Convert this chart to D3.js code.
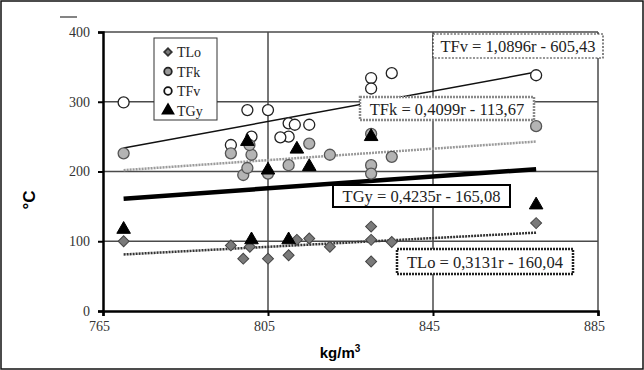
<!DOCTYPE html>
<html>
<head>
<script src="https://d3js.org/d3.v7.min.js"></script>
<style>
  body { margin: 0; padding: 0; background: #fff; }
  svg text { font-family: "Liberation Serif", "DejaVu Serif", serif; }
</style>
</head>
<body>
<div class="viz"></div>
<script>
// data (x = kg/m3, y = °C)
var xTicks = [765, 805, 845, 885];
var yTicks = [0, 100, 200, 300, 400];

var tloX = [770, 796, 799, 800.6, 805, 810, 812, 815, 820, 830, 830, 830, 835, 870];
var tloY = [100, 94, 75, 92, 75, 80, 102, 104, 92, 121, 102, 71, 99, 126];

var tfkX = [770, 796, 799, 800, 801, 800.5, 805, 810, 815, 820, 830, 830, 830, 835, 870];
var tfkY = [226, 226, 195, 205, 224, 238, 197, 209, 240, 224, 209, 197, 254, 221, 265];

var tfvX = [770, 800, 805, 796, 801, 810, 810, 811.5, 815, 808, 830, 830, 835, 870];
var tfvY = [299, 288, 288, 238, 250, 269, 250, 267, 267, 249, 334, 319, 341, 338];

var tgyX = [770, 801, 810, 800, 805, 812, 815, 830, 870];
var tgyY = [117, 102, 102, 243, 202, 232, 207, 250, 152];

// trend lines: slope, intercept, drawn over the data range
var trendNames = ["TFv", "TFk", "TGy", "TLo"];
var trendSlope = [1.0896, 0.4099, 0.4235, 0.3131];
var trendIcpt = [-605.43, -113.67, -165.08, -160.04];
var trendLabel = ["TFv = 1,0896r - 605,43", "TFk = 0,4099r - 113,67",
                  "TGy = 0,4235r - 165,08", "TLo = 0,3131r - 160,04"];
var trendFrom = 770, trendTo = 870;

var width = 644, height = 370;
var svg = d3.select(".viz").append("svg")
    .attr("width", width)
    .attr("height", height);

// outer frame
svg.append("rect")
    .attr("x", 1).attr("y", 1)
    .attr("width", width - 2).attr("height", height - 2)
    .attr("fill", "none").attr("stroke", "#111").attr("stroke-width", 1.5);

var x = d3.scaleLinear().domain([765, 885]).range([103, 598]);
var y = d3.scaleLinear().domain([0, 400]).range([311, 32]);

// grid
svg.append("g").selectAll("line")
    .data(yTicks.slice(1))
    .enter().append("line")
    .attr("x1", x(765)).attr("x2", x(885))
    .attr("y1", function(d){ return y(d); })
    .attr("y2", function(d){ return y(d); })
    .attr("stroke", "#4a4a4a").attr("stroke-width", 1.5);

svg.append("g").selectAll("line")
    .data(xTicks.slice(1))
    .enter().append("line")
    .attr("x1", function(d){ return x(d); })
    .attr("x2", function(d){ return x(d); })
    .attr("y1", y(0)).attr("y2", y(400))
    .attr("stroke", "#4a4a4a").attr("stroke-width", 1.5);

// axes
var xAxis = svg.append("g")
    .attr("transform", "translate(0," + y(0) + ")")
    .call(d3.axisBottom(x).tickValues(xTicks).tickSize(5).tickPadding(5));
var yAxis = svg.append("g")
    .attr("transform", "translate(" + x(765) + ",0)")
    .call(d3.axisLeft(y).tickValues(yTicks).tickSize(5).tickPadding(8));

[xAxis, yAxis].forEach(function(a){
    a.select(".domain").attr("stroke", "#000").attr("stroke-width", 2.5);
    a.selectAll(".tick line").attr("stroke", "#000").attr("stroke-width", 2);
    a.selectAll(".tick text")
        .style("font-family", "Liberation Serif")
        .style("font-size", "14px")
        .attr("fill", "#333");
});
xAxis.selectAll(".tick text").attr("dx", "-4");

// stray dash above 400
svg.append("line")
    .attr("x1", 60).attr("x2", 77).attr("y1", 17).attr("y2", 17)
    .attr("stroke", "#333").attr("stroke-width", 1.2);

// axis titles
svg.append("text")
    .attr("transform", "translate(35,200) rotate(-90)")
    .attr("text-anchor", "middle")
    .style("font-family", "Liberation Sans")
    .style("font-weight", "bold")
    .style("font-size", "17px")
    .text("°C");

var xt = svg.append("text")
    .attr("x", 340).attr("y", 358)
    .attr("text-anchor", "middle")
    .style("font-family", "Liberation Sans")
    .style("font-weight", "bold")
    .style("font-size", "15px");
xt.append("tspan").text("kg/m");
xt.append("tspan").attr("dy", -6).style("font-size", "10px").text("3");

// trend lines
var lineStyle = [
    {stroke: "#111", width: 1.5, dash: null},
    {stroke: "#9a9a9a", width: 2.5, dash: "2,1"},
    {stroke: "#000", width: 4.5, dash: null},
    {stroke: "#333", width: 2.5, dash: "2,1"}
];
trendNames.forEach(function(n, i){
    var pts = [trendFrom, trendTo].map(function(v){
        return [x(v), y(trendSlope[i] * v + trendIcpt[i])];
    });
    svg.append("path")
        .attr("d", d3.line()(pts))
        .attr("fill", "none")
        .attr("stroke", lineStyle[i].stroke)
        .attr("stroke-width", lineStyle[i].width)
        .attr("stroke-dasharray", lineStyle[i].dash);
});

// markers
function zip(a, b){ return a.map(function(v, i){ return [v, b[i]]; }); }

var sym = d3.symbol();
function drawSeries(xs, ys, type, size, fill, stroke, sw, rot){
    svg.append("g").selectAll("path")
        .data(zip(xs, ys))
        .enter().append("path")
        .attr("transform", function(d){
            return "translate(" + x(d[0]) + "," + y(d[1]) + ") rotate(" + (rot || 0) + ")";
        })
        .attr("d", sym.type(type).size(size)())
        .attr("fill", fill)
        .attr("stroke", stroke)
        .attr("stroke-width", sw);
}
drawSeries(tfvX, tfvY, d3.symbolCircle, 95, "#fff", "#222", 1.3);
drawSeries(tfkX, tfkY, d3.symbolCircle, 95, "#b4b4b4", "#555", 1.3);
drawSeries(tloX, tloY, d3.symbolSquare, 60, "#7a7a7a", "#444", 1, 45);
drawSeries(tgyX, tgyY, d3.symbolTriangle, 80, "#000", "#000", 1);

// legend
var legNames = ["TLo", "TFk", "TFv", "TGy"];
var leg = svg.append("g");
leg.append("rect")
    .attr("x", 154).attr("y", 38).attr("width", 63).attr("height", 82)
    .attr("fill", "#fff").attr("stroke", "#333").attr("stroke-width", 1);
var legStyle = [
    {type: d3.symbolSquare, fill: "#7a7a7a", stroke: "#333", size: 28, rot: 45},
    {type: d3.symbolCircle, fill: "#999", stroke: "#222", size: 45, rot: 0},
    {type: d3.symbolCircle, fill: "#fff", stroke: "#111", size: 45, rot: 0},
    {type: d3.symbolTriangle, fill: "#000", stroke: "#000", size: 50, rot: 0}
];
legNames.forEach(function(n, i){
    var ly = 52 + i * 19.5;
    leg.append("path")
        .attr("transform", "translate(168," + ly + ") rotate(" + legStyle[i].rot + ")")
        .attr("d", sym.type(legStyle[i].type).size(legStyle[i].size)())
        .attr("fill", legStyle[i].fill)
        .attr("stroke", legStyle[i].stroke)
        .attr("stroke-width", 1.8);
    leg.append("text")
        .attr("x", 177).attr("y", ly + 5)
        .style("font-size", "14px")
        .attr("fill", "#222")
        .text(n);
});

// equation boxes
var boxes = [
    {x: 433, y: 34, w: 170, h: 24, stroke: "#333", sw: 1.2, dash: "2,1.5"},
    {x: 360, y: 97, w: 174, h: 23, stroke: "#8a8a8a", sw: 2.5, dash: "2,1"},
    {x: 333, y: 185, w: 177, h: 22, stroke: "#000", sw: 2, dash: null},
    {x: 397, y: 249, w: 176, h: 25, stroke: "#222", sw: 2.5, dash: "2,1"}
];
boxes.forEach(function(b, i){
    svg.append("rect")
        .attr("x", b.x).attr("y", b.y).attr("width", b.w).attr("height", b.h)
        .attr("fill", "#fff")
        .attr("stroke", b.stroke).attr("stroke-width", b.sw)
        .attr("stroke-dasharray", b.dash);
    svg.append("text")
        .attr("x", b.x + b.w / 2).attr("y", b.y + b.h / 2 + 6)
        .attr("text-anchor", "middle")
        .style("font-size", "16.5px")
        .attr("fill", "#222")
        .text(trendLabel[i]);
});
</script>
</body>
</html>
